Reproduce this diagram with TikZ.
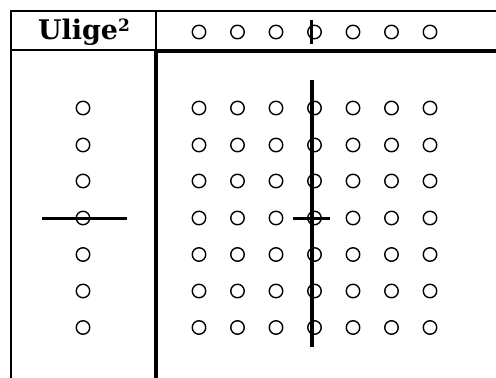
\documentclass[tikz,border=0pt]{standalone}
\usepackage{fontspec}
\newfontfamily\titlefont{DejaVu Serif}
\begin{document}
\begin{tikzpicture}[x=1pt,y=-1pt,
  dot/.style={circle,draw,line width=1.4pt,minimum size=13.5pt,inner sep=0pt},
  thinline/.style={line width=2pt},
  thickline/.style={line width=4pt},
  strike/.style={line width=3.2pt}]
\useasboundingbox (0,0) rectangle (496,378);
% frame
\draw[thinline] (11,378) -- (11,11) -- (496,11);
\draw[thinline] (11,49.5) -- (156,49.5);
\draw[thinline] (156,11) -- (156,49.5);
\draw[thickline] (154,50.5) -- (496,50.5);
\draw[thickline] (156,50.5) -- (156,378);
% header text
\node[anchor=base,inner sep=0pt] (title) at (84,39) {\titlefont\bfseries\fontsize{27}{30}\selectfont Ulige\raisebox{7.5pt}{\fontsize{17}{17}\selectfont 2}};
% top row
\foreach \i/\x in {1/199,2/237.5,3/276,4/314.5,5/353,6/391.5,7/430}
  \node[dot] (t\i) at (\x,32) {};
\coordinate (ta) at (311.5,20);
\coordinate (tb) at (311.5,44);
\draw[strike] (ta) -- (tb);
% left column
\foreach \j/\y in {1/108,2/145,3/181,4/218,5/254.5,6/291,7/327.5}
  \node[dot] (l\j) at (83,\y) {};
\coordinate (la) at (42,218.5);
\coordinate (lb) at (127,218.5);
\draw[strike] (la) -- (lb);
% grid
\foreach \i/\x in {1/199,2/237.5,3/276,4/314.5,5/353,6/391.5,7/430}
  \foreach \j/\y in {1/108,2/145,3/181,4/218,5/254.5,6/291,7/327.5}
    \node[dot] (g\i\j) at (\x,\y) {};
\coordinate (va) at (312,80);
\coordinate (vb) at (312,347);
\draw[strike] (va) -- (vb);
\coordinate (ha) at (293,218.5);
\coordinate (hb) at (330,218.5);
\draw[strike] (ha) -- (hb);
\end{tikzpicture}
\end{document}
